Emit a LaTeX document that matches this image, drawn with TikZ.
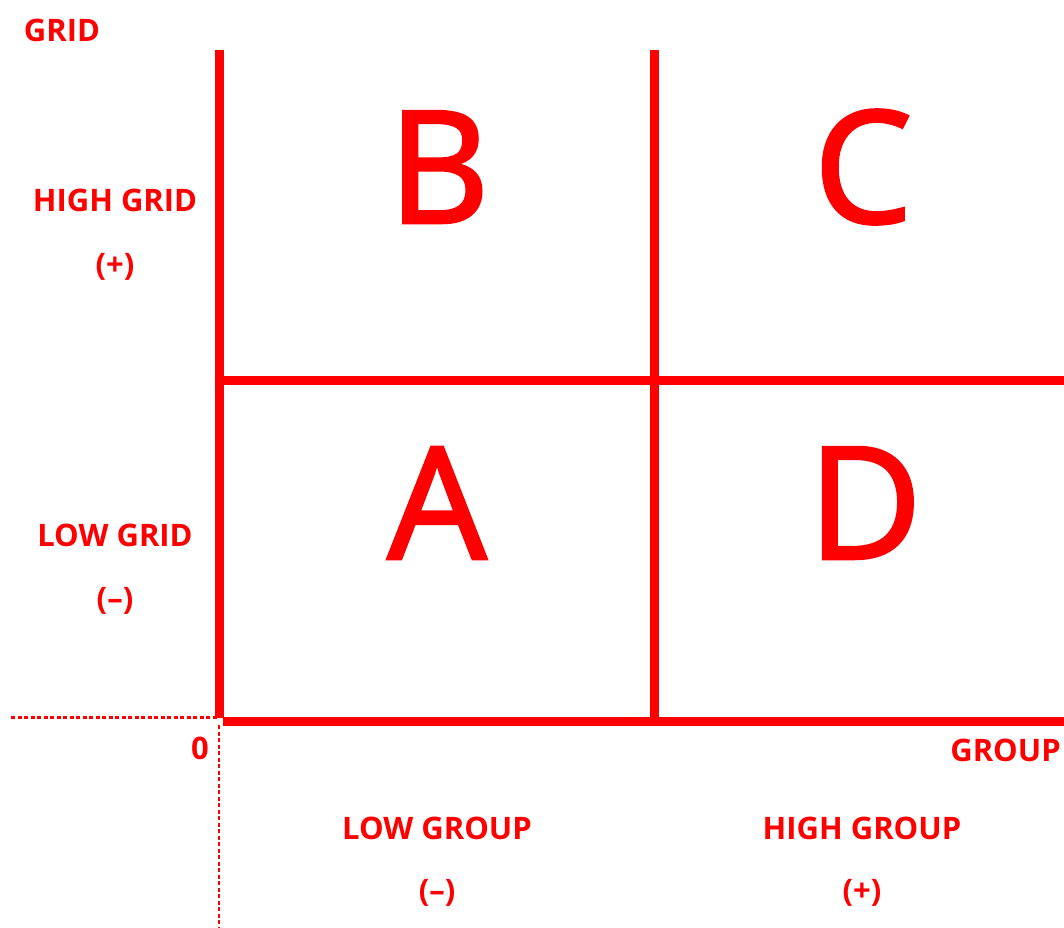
\documentclass[tikz,border=0pt]{standalone}
\usepackage{fontspec}
\setmainfont{Open Sans}
\newfontfamily\quadfont[FakeBold=2]{Open Sans}
\begin{document}
\begin{tikzpicture}[x=1pt,y=-1pt,
  axisline/.style={draw=red,line width=9pt},
  guide/.style={draw=red,line width=2.2pt,dash pattern=on 4pt off 2.5pt},
  lbl/.style={text=red,font=\bfseries\fontsize{31}{32}\selectfont,inner sep=0pt},
  big/.style={text=red,font=\quadfont\fontsize{156}{156}\selectfont,inner sep=0pt}]
\useasboundingbox (0,0) rectangle (1064,927);
% frame coordinates
\coordinate (lt) at (219.5,50);
\coordinate (lb) at (219.5,718);
\coordinate (mt) at (654.5,50);
\coordinate (mb) at (654.5,721);
\coordinate (hl) at (219.5,380.5);
\coordinate (hr) at (1064,380.5);
\coordinate (bl) at (223,721.3);
\coordinate (br) at (1064,721.3);
\coordinate (dl) at (11,717.5);
\coordinate (dr) at (217,717.5);
\coordinate (vt) at (219.3,725);
\coordinate (vb) at (219.3,927);
\draw[guide] (dl) -- (dr);
\draw[guide] (vt) -- (vb);
\draw[axisline] (lt) -- (lb);
\draw[axisline] (mt) -- (mb);
\draw[axisline] (hl) -- (hr);
\draw[axisline] (bl) -- (br);
% quadrant letters
\node[big] (B) at (439,167) {B};
\node[big] (C) at (863,167) {C};
\node[big] (A) at (437,503) {A};
\node[big] (D) at (865,503) {D};
% labels
\node[lbl] (grid) at (62,30) {GRID};
\node[lbl] (hg) at (115,200) {HIGH GRID};
\node[lbl] (hgp) at (115,267) {(+)};
\node[lbl] (lg) at (115,535) {LOW GRID};
\node[lbl] (lgm) at (115,601) {(–)};
\node[lbl] (zero) at (200,748) {0};
\node[lbl,anchor=east] (group) at (1061,750) {GROUP};
\node[lbl] (lgr) at (437,828) {LOW GROUP};
\node[lbl] (lgrm) at (437,893) {(–)};
\node[lbl] (hgr) at (862,828) {HIGH GROUP};
\node[lbl] (hgrp) at (862,893) {(+)};
\end{tikzpicture}
\end{document}
